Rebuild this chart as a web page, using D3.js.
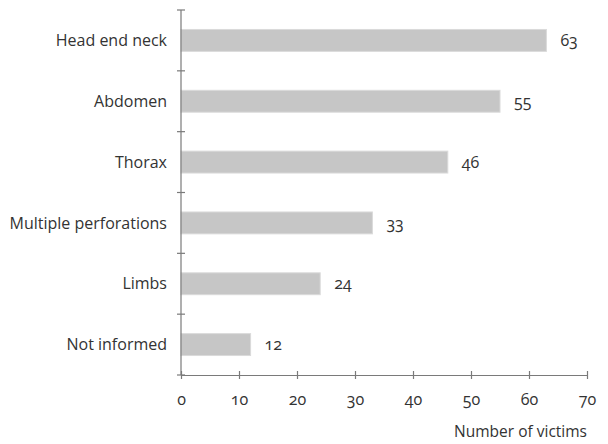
<!DOCTYPE html>
<html>
<head>
<meta charset="utf-8">
<script src="https://cdn.jsdelivr.net/npm/d3@7"></script>
<style>
  body { margin: 0; background: #fff; }
  svg text { font-family: "Open Sans", Lato, sans-serif; fill: #333; font-variant-numeric: oldstyle-nums; }
</style>
</head>
<body>
<div class="chart"></div>
<script>
const categories = ["Head end neck", "Abdomen", "Thorax", "Multiple perforations", "Limbs", "Not informed"];
const victims = [63, 55, 46, 33, 24, 12];
const xTicks = [0, 10, 20, 30, 40, 50, 60, 70];
const xTitle = "Number of victims";

const width = 608;
const height = 444;
const margin = {top: 10, right: 21, bottom: 69, left: 181};

const svg = d3.select(".chart")
  .append("svg")
  .attr("width", width)
  .attr("height", height);

// x goes 0..70
const x = d3.scaleLinear()
  .domain([0, 70])
  .range([margin.left, width - margin.right]);

// one band per category, top to bottom
const y = d3.scaleBand()
  .domain(categories)
  .range([margin.top, height - margin.bottom])
  .paddingInner(0.64)
  .paddingOuter(0.32);

// bars
svg.append("g")
  .selectAll("rect")
  .data(categories)
  .join("rect")
  .attr("x", x(0))
  .attr("y", d => y(d))
  .attr("width", (d, i) => x(victims[i]) - x(0))
  .attr("height", y.bandwidth())
  .attr("fill", "#c6c6c6")
  .attr("stroke", "#dadada")
  .attr("stroke-width", 1);

// value labels
svg.append("g")
  .selectAll("text")
  .data(categories)
  .join("text")
  .attr("x", (d, i) => x(victims[i]) + 14)
  .attr("y", d => y(d) + y.bandwidth() / 2)
  .attr("dy", "0.35em")
  .attr("font-size", 16)
  .text((d, i) => victims[i]);

// y axis line with ticks at band edges
const yAxis = svg.append("g");
yAxis.append("line")
  .attr("x1", x(0)).attr("x2", x(0))
  .attr("y1", margin.top).attr("y2", height - margin.bottom)
  .attr("stroke", "#7a7a7a").attr("stroke-width", 1.2);
const step = y.step();
const edges = d3.range(categories.length + 1).map(i => margin.top + i * step);
yAxis.selectAll(".tk")
  .data(edges)
  .join("line")
  .attr("class", "tk")
  .attr("x1", x(0) - 4).attr("x2", x(0) + 4)
  .attr("y1", d => d).attr("y2", d => d)
  .attr("stroke", "#7a7a7a").attr("stroke-width", 1.2);
yAxis.selectAll("text")
  .data(categories)
  .join("text")
  .attr("x", x(0) - 14)
  .attr("y", d => y(d) + y.bandwidth() / 2)
  .attr("dy", "0.35em")
  .attr("text-anchor", "end")
  .attr("font-size", 16)
  .text(d => d);

// x axis
const xAxis = svg.append("g")
  .attr("transform", `translate(0, ${height - margin.bottom})`)
  .call(d3.axisBottom(x).tickValues(xTicks).tickSizeInner(4).tickSizeOuter(0).tickPadding(15));
xAxis.select(".domain").attr("stroke", "#7a7a7a").attr("stroke-width", 1.2);
xAxis.selectAll(".tick line")
  .attr("y1", -4)
  .attr("stroke", "#7a7a7a").attr("stroke-width", 1.2);
xAxis.selectAll(".tick text")
  .attr("font-size", 16)
  .attr("font-family", null)
  .attr("fill", null);

svg.append("text")
  .attr("x", x(70))
  .attr("y", height - 7)
  .attr("text-anchor", "end")
  .attr("font-size", 15.5)
  .text(xTitle);
</script>
</body>
</html>
